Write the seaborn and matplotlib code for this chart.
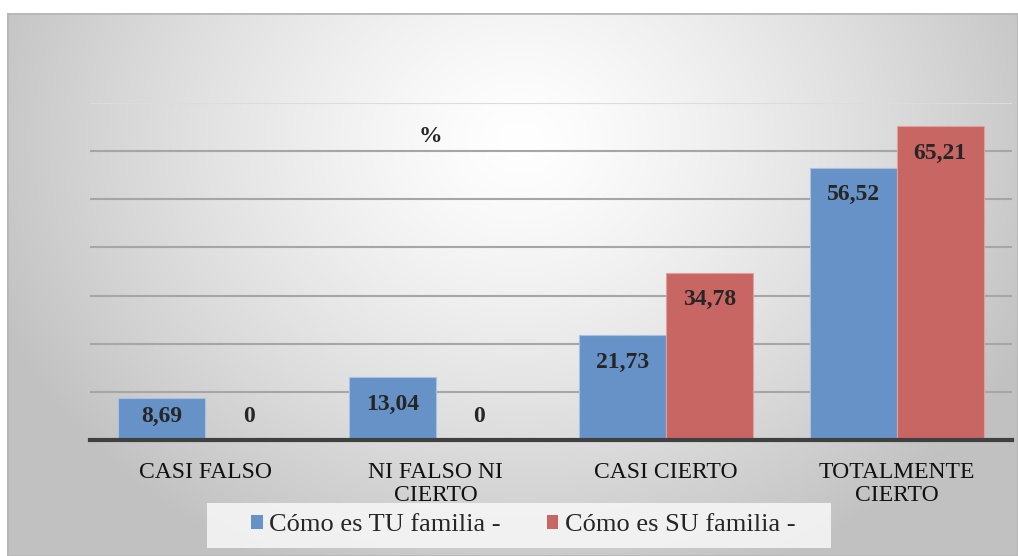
import numpy as np
import pandas as pd
import matplotlib
matplotlib.use('Agg')
import matplotlib.pyplot as plt
from matplotlib.patches import Patch, Rectangle
import seaborn as sns

categorias = ['CASI FALSO', 'NI FALSO NI\nCIERTO', 'CASI CIERTO', 'TOTALMENTE\nCIERTO']
tu_familia = [8.69, 13.04, 21.73, 56.52]
su_familia = [0, 0, 34.78, 65.21]
series = ['Cómo es TU familia -', 'Cómo es SU familia -']
colores = ['#6792c7', '#c86663']

df = pd.DataFrame({
    'categoria': categorias * 2,
    'valor': tu_familia + su_familia,
    'serie': [series[0]] * 4 + [series[1]] * 4,
})

sns.set_style('white')
plt.rcParams['font.family'] = 'serif'
plt.rcParams['font.serif'] = ['Liberation Serif', 'DejaVu Serif']

W, H = 1018, 556
fig = plt.figure(figsize=(W / 100, H / 100), dpi=100)

# fondo con degradado radial
bg = fig.add_axes([7 / W, 0, 1 - 7 / W, 1 - 13 / H])
yy, xx = np.mgrid[13:H, 7:W]
r = np.sqrt(((xx - 520) / 560.0) ** 2 + ((yy - 140) / 470.0) ** 2)
val = 1 - 0.24 * np.clip(r, 0, 1) ** 1.3
bg.imshow(np.dstack([val, val, val]), aspect='auto', interpolation='bilinear')
bg.add_patch(Rectangle((0, 0), 1, 1, transform=bg.transAxes, fill=False,
                       edgecolor='#b8b8b8', lw=2))
bg.set_axis_off()

ax = fig.add_axes([90 / W, (H - 440) / H, 922 / W, 337 / H])
ax.patch.set_alpha(0)
sns.barplot(data=df, x='categoria', y='valor', hue='serie', palette=colores,
            saturation=1, width=0.755, gap=0, ax=ax, legend=False,
            edgecolor='#a9c0e0', linewidth=0.8, zorder=3)
for bar in ax.containers[1]:
    bar.set_edgecolor('#e0a09e')

ax.set_ylim(0, 70)
ax.set_yticks(range(0, 71, 10))
ax.set_yticklabels([])
ax.grid(axis='y', color='#a6a6a6', lw=1.5, zorder=0)
ax.set_axisbelow(True)
ax.get_ygridlines()[-1].set_color('#dcdcdc')
for s in ['top', 'right', 'left']:
    ax.spines[s].set_visible(False)
ax.spines['bottom'].set_color('#404040')
ax.spines['bottom'].set_linewidth(3)
ax.spines['bottom'].set_zorder(4)
ax.set_xlabel('')
ax.set_ylabel('')
ax.tick_params(axis='both', length=0)
ax.tick_params(axis='x', pad=16)
for t in ax.get_xticklabels():
    t.set_fontsize(17)
    t.set_linespacing(1.12)
    t.set_color('#111111')

for cont in ax.containers:
    for bar in cont:
        v = bar.get_height()
        etiqueta = f'{v:.2f}'.replace('.', ',') if v else '0'
        ax.text(bar.get_x() + bar.get_width() / 2, max(v - 5.6, 4.8), etiqueta,
                ha='center', va='center', fontsize=17, fontweight='bold', zorder=5)

fig.text(430 / W, 1 - 137 / H, '%', ha='center', va='center',
         fontsize=17, fontweight='bold')

# caja de la leyenda
fig.patches.append(Rectangle((207 / W, 1 - 548 / H), 624 / W, 45 / H,
                             transform=fig.transFigure, facecolor='#f8f8f8',
                             alpha=0.85, edgecolor='none', zorder=5))
handles = [Patch(facecolor=c, edgecolor='none') for c in colores]
leg = fig.legend(handles, series, loc='center', bbox_to_anchor=(523 / W, 1 - 525 / H),
                 ncol=2, frameon=False, fontsize=19,
                 handlelength=0.45, handleheight=0.45, handletextpad=0.23,
                 columnspacing=1.75, borderpad=0.2)
leg.set_zorder(6)

fig.savefig('out.png', dpi=100)
